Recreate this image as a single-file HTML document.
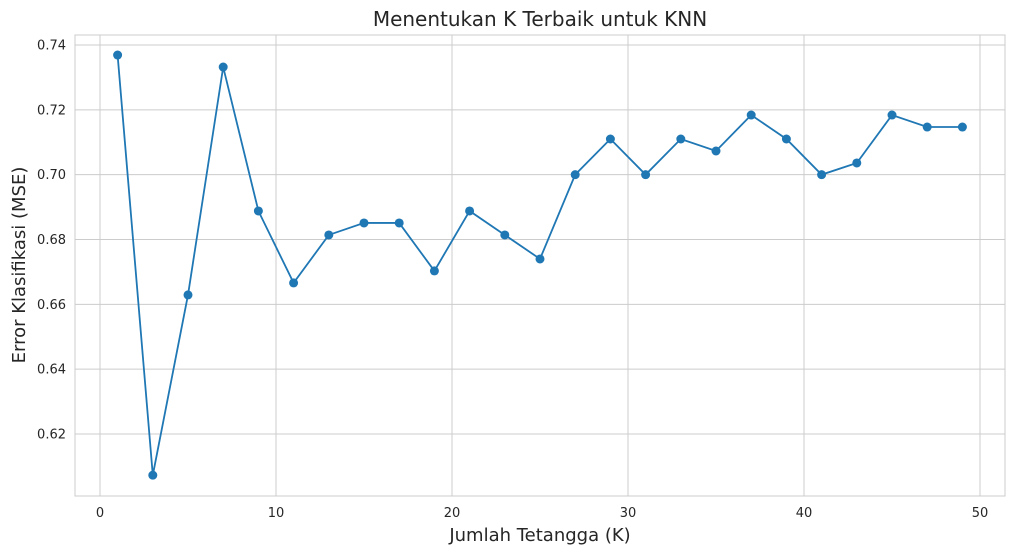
<!DOCTYPE html>
<html><head><meta charset="utf-8"><style>
body{margin:0;background:#fff;}
svg{display:block;font-family:"DejaVu Sans","Liberation Sans",sans-serif;}
</style></head><body>
<svg id="chart" width="1015" height="554">
<rect x="0" y="0" width="1015" height="554" fill="#fff"/>
<g id="grid"></g>
<rect x="75" y="35" width="930" height="461" fill="none" stroke="#cccccc" stroke-width="1"/>
<g id="ticks"></g>
<g id="series"></g>
<text x="540" y="26" text-anchor="middle" font-size="20" fill="#262626">Menentukan K Terbaik untuk KNN</text>
<text x="540" y="541" text-anchor="middle" font-size="18" fill="#262626">Jumlah Tetangga (K)</text>
<text transform="translate(25,265) rotate(-90)" text-anchor="middle" font-size="18" fill="#262626">Error Klasifikasi (MSE)</text>
</svg>
<script>
const kValues=[1,3,5,7,9,11,13,15,17,19,21,23,25,27,29,31,33,35,37,39,41,43,45,47,49];
const errorValues=[0.7369,0.6073,0.6629,0.7332,0.6888,0.6666,0.6814,0.6851,0.6851,0.6703,0.6888,0.6814,0.674,0.700,0.711,0.700,0.711,0.7073,0.7184,0.711,0.700,0.7036,0.7184,0.7147,0.7147];
const xTicks=[0,10,20,30,40,50];
const yTicks=[0.62,0.64,0.66,0.68,0.70,0.72,0.74];
const NS="http://www.w3.org/2000/svg";
function xs(v){return 100+(v-0)*17.6;}
function ys(v){return 45+(0.74-v)*3241.5;}
const grid=document.getElementById('grid'),ticks=document.getElementById('ticks'),series=document.getElementById('series');
function mk(tag,attrs,parent){const e=document.createElementNS(NS,tag);for(const k in attrs)e.setAttribute(k,attrs[k]);parent.appendChild(e);return e;}
xTicks.forEach(t=>{
  const l=mk('line',{x1:xs(t),x2:xs(t),y1:35,y2:496,stroke:'#cccccc','stroke-width':1},grid);
  
  
  const tx=mk('text',{x:xs(t),y:517,'text-anchor':'middle','font-size':13,fill:'#262626'},ticks);
  tx.textContent=t;
  
  
});
yTicks.forEach(t=>{
  const l=mk('line',{x1:75,x2:1005,y1:ys(t),y2:ys(t),stroke:'#cccccc','stroke-width':1},grid);
  
  
  const tx=mk('text',{x:66,y:ys(t)+4.5,'text-anchor':'end','font-size':13,fill:'#262626'},ticks);
  tx.textContent=t.toFixed(2);
  
  
});
const pts=kValues.map((k,i)=>xs(k)+','+ys(errorValues[i])).join(' ');
const pl=mk('polyline',{points:pts,fill:'none',stroke:'#1f77b4','stroke-width':1.8},series);


kValues.forEach((k,i)=>{
  const c=mk('circle',{cx:xs(k),cy:ys(errorValues[i]),r:4.5,fill:'#1f77b4'},series);
  
  
});
</script>
</body></html>
